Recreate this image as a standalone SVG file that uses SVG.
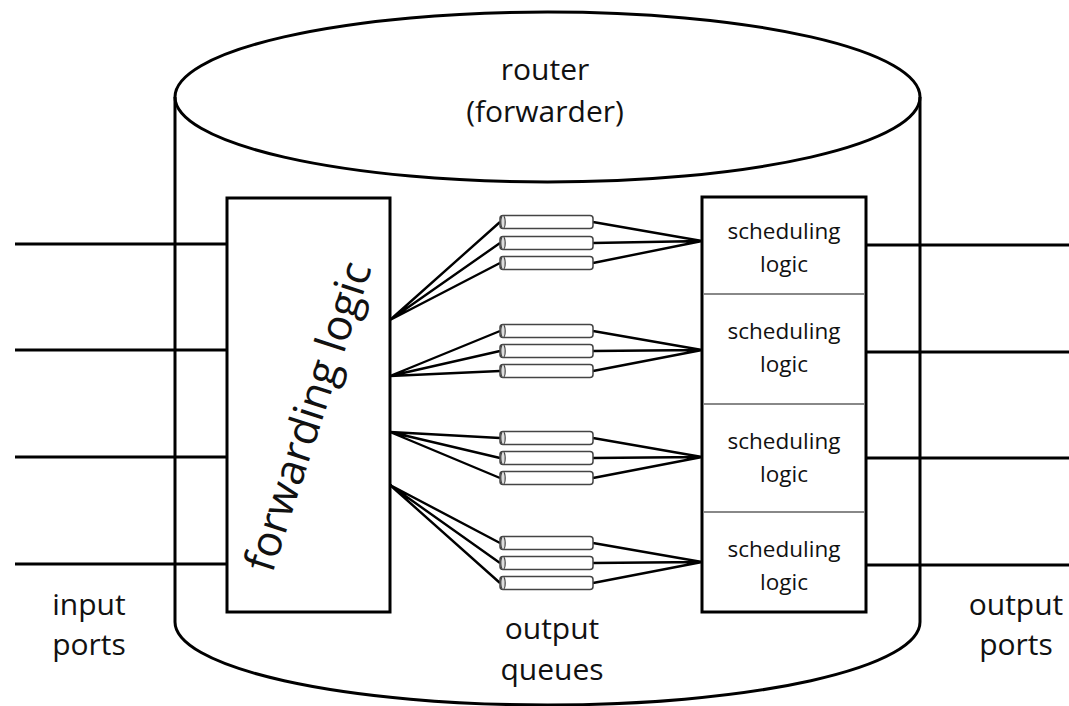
<svg xmlns="http://www.w3.org/2000/svg" width="1069" height="706" viewBox="0 0 1069 706">
<style>
.ln{stroke:#000;stroke-width:3;fill:none}
.fan{stroke:#000;stroke-width:2.4;fill:none}
.box{stroke:#000;stroke-width:3;fill:#fff}
.q{stroke:#444;stroke-width:1.5;fill:#fff}
.cap{stroke:#444;stroke-width:1.2;fill:#ddd}
.div{stroke:#888;stroke-width:2}
.t{font-family:"Open Sans","Noto Sans",sans-serif;fill:#111;text-anchor:middle}
.big{font-size:30px}
.sm{font-size:22.5px}
</style>
<defs>
<g id="queue">
<rect class="q" x="0" y="-6.5" width="93" height="13" rx="3"/>
<path class="cap" d="M3,-6.5 A2.2,6.5 0 0 0 3,6.5 A2.2,6.5 0 0 0 3,-6.5 Z"/>
</g>
</defs>
<rect width="1069" height="706" fill="#fff"/>
<g id="router">
<path class="ln" d="M175,97 L175,622 A372.5,83 0 0 0 920,622 L920,97" fill="#fff"/>
<ellipse class="ln" cx="547.5" cy="97" rx="372.5" ry="85" fill="#fff"/>
<text class="t big" x="545" y="80">router</text>
<text class="t big" x="545" y="122">(forwarder)</text>
</g>
<g id="ports">
<path class="ln" d="M15,244H227M15,350H227M15,457H227M15,564H227"/>
<path class="ln" d="M866,245H1069M866,352H1069M866,458H1069M866,565H1069"/>
</g>
<g id="connectors">
<path class="fan" d="M390,320L500,222M390,320L500,243M390,320L500,263M593,222L702,241M593,243L702,241M593,263L702,241"/>
<path class="fan" d="M390,376L500,331M390,376L500,351M390,376L500,371M593,331L702,350M593,351L702,350M593,371L702,350"/>
<path class="fan" d="M390,432L500,438M390,432L500,458M390,432L500,478M593,438L702,457M593,458L702,457M593,478L702,457"/>
<path class="fan" d="M390,485L500,543M390,485L500,563M390,485L500,583M593,543L702,562M593,563L702,562M593,583L702,562"/>
</g>
<g id="forwarding-logic">
<rect class="box" x="227" y="198" width="163" height="414"/>
<text class="t" font-size="43" x="322" y="421" transform="rotate(-72 322 421)">forwarding logic</text>
</g>
<g id="output-queues">
<use href="#queue" x="500" y="222"/>
<use href="#queue" x="500" y="243"/>
<use href="#queue" x="500" y="263"/>
<use href="#queue" x="500" y="331"/>
<use href="#queue" x="500" y="351"/>
<use href="#queue" x="500" y="371"/>
<use href="#queue" x="500" y="438"/>
<use href="#queue" x="500" y="458"/>
<use href="#queue" x="500" y="478"/>
<use href="#queue" x="500" y="543"/>
<use href="#queue" x="500" y="563"/>
<use href="#queue" x="500" y="583"/>
</g>
<g id="scheduling-logic">
<rect class="box" x="702" y="197" width="164" height="415"/>
<path class="div" d="M704,294H864M704,404H864M704,512H864"/>
<text class="t sm" x="784" y="239">scheduling</text>
<text class="t sm" x="784" y="272">logic</text>
<text class="t sm" x="784" y="339">scheduling</text>
<text class="t sm" x="784" y="372">logic</text>
<text class="t sm" x="784" y="449">scheduling</text>
<text class="t sm" x="784" y="482">logic</text>
<text class="t sm" x="784" y="557">scheduling</text>
<text class="t sm" x="784" y="590">logic</text>
</g>
<g id="labels">
<text class="t big" x="89" y="615">input</text>
<text class="t big" x="89" y="655">ports</text>
<text class="t big" x="1016" y="615">output</text>
<text class="t big" x="1016" y="655">ports</text>
<text class="t big" x="552" y="639">output</text>
<text class="t big" x="552" y="680">queues</text>
</g>
</svg>
